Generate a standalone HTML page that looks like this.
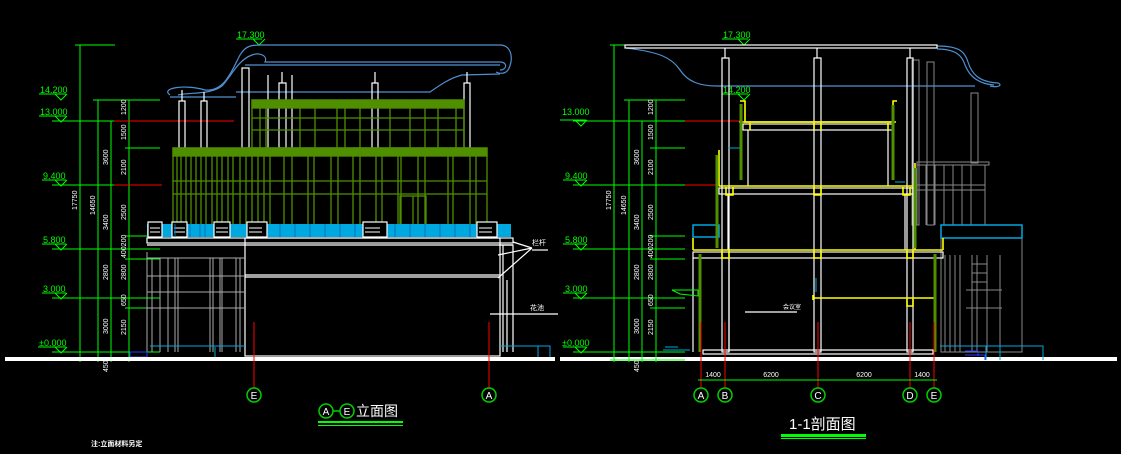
<!DOCTYPE html>
<html><head><meta charset="utf-8"><style>
html,body{margin:0;padding:0;background:#000;}
svg{display:block}
text{font-family:"Liberation Sans","Noto Sans CJK SC",sans-serif}
</style></head><body>
<svg width="1121" height="454" viewBox="0 0 1121 454" xmlns="http://www.w3.org/2000/svg">
<rect width="1121" height="454" fill="#000"/>

<!-- ===================== LEFT ELEVATION ===================== -->
<!-- level marks -->
<g stroke="#00ff00" stroke-width="1" fill="none">
  <!-- vertical dimension lines -->
  <line x1="80" y1="45" x2="80" y2="362"/>
  <line x1="98" y1="100" x2="98" y2="362"/>
  <line x1="111" y1="121" x2="111" y2="362"/>
  <line x1="129" y1="100" x2="129" y2="362"/>
  <!-- horizontal ticks -->
  <line x1="75" y1="45" x2="115" y2="45"/>
  <line x1="93" y1="100" x2="160" y2="100"/>
  <line x1="52" y1="121" x2="160" y2="121"/>
  <line x1="125" y1="148" x2="160" y2="148"/>
  <line x1="52" y1="185" x2="160" y2="185"/>
  <line x1="125" y1="236" x2="160" y2="236"/>
  <line x1="52" y1="249" x2="160" y2="249"/>
  <line x1="125" y1="259" x2="160" y2="259"/>
  <line x1="52" y1="298" x2="160" y2="298"/>
  <line x1="125" y1="308" x2="160" y2="308"/>
  <line x1="52" y1="352" x2="160" y2="352"/>
  <line x1="75" y1="360" x2="160" y2="360"/>
  <!-- level labels underline + triangles -->
  <line x1="39" y1="94" x2="66" y2="94"/><path d="M55,94 L61,100 L67,94"/>
  <line x1="39" y1="116" x2="66" y2="116"/><path d="M55,116 L61,122 L67,116"/>
  <line x1="42" y1="180" x2="66" y2="180"/><path d="M55,180 L61,186 L67,180"/>
  <line x1="42" y1="244" x2="66" y2="244"/><path d="M55,244 L61,250 L67,244"/>
  <line x1="42" y1="293" x2="66" y2="293"/><path d="M55,293 L61,299 L67,293"/>
  <line x1="38" y1="347" x2="66" y2="347"/><path d="M55,347 L61,353 L67,347"/>
  <line x1="236" y1="39" x2="262" y2="39"/><path d="M253,39 L259,45 L265,39"/>
</g>
<line x1="114" y1="121" x2="234" y2="121" stroke="#ff0000" stroke-width="1"/>
<line x1="114" y1="185" x2="162" y2="185" stroke="#ff0000" stroke-width="1"/>
<g fill="#00ff00" font-size="9">
  <text x="40" y="93">14.200</text>
  <text x="40" y="115">13.000</text>
  <text x="43" y="179">9.400</text>
  <text x="43" y="243">5.800</text>
  <text x="43" y="292">3.000</text>
  <text x="39" y="346">±0.000</text>
  <text x="237" y="38">17.300</text>
</g>
<g fill="#fff" font-size="7">
  <text transform="translate(77,210) rotate(-90)">17750</text>
  <text transform="translate(95,215) rotate(-90)">14650</text>
  <text transform="translate(108,165) rotate(-90)">3600</text>
  <text transform="translate(108,230) rotate(-90)">3400</text>
  <text transform="translate(108,280) rotate(-90)">2800</text>
  <text transform="translate(108,334) rotate(-90)">3000</text>
  <text transform="translate(126,115) rotate(-90)">1200</text>
  <text transform="translate(126,140) rotate(-90)">1500</text>
  <text transform="translate(126,175) rotate(-90)">2100</text>
  <text transform="translate(126,220) rotate(-90)">2500</text>
  <text transform="translate(126,258) rotate(-90)">400200</text>
  <text transform="translate(126,280) rotate(-90)">2800</text>
  <text transform="translate(126,306) rotate(-90)">650</text>
  <text transform="translate(126,335) rotate(-90)">2150</text>
  <text transform="translate(108,372) rotate(-90)">450</text>
</g>

<!-- roof curve (blue) -->
<g stroke="#4f8fd0" stroke-width="1.2" fill="none">
  <path d="M170,95 C160,88 185,84 205,90 C225,92 232,70 240,55 C246,45 252,45 262,45 L500,45 C512,45 514,60 508,70 C505,74 500,74 496,72"/>
  <path d="M178,95 C190,92 210,95 222,86 C232,75 238,60 252,55 C260,52 268,56 265,62 L500,62 C508,62 507,70 500,70"/>
  <path d="M170,97 L236,97 M236,92 C350,92 420,92 430,92 C440,85 450,78 462,75 L500,74"/>
  <line x1="245" y1="65" x2="500" y2="65"/>
</g>

<!-- posts -->
<g stroke="#fff" stroke-width="1.2" fill="none">
  <rect x="242" y="68" width="7" height="80"/>
  <rect x="179" y="101" width="6" height="47"/>
  <rect x="201" y="101" width="6" height="47"/>
  <rect x="279" y="83" width="7" height="65"/>
  <rect x="372" y="83" width="6" height="65"/>
  <rect x="464" y="83" width="6" height="65"/>
  <line x1="282" y1="72" x2="282" y2="83"/><line x1="375" y1="72" x2="375" y2="83"/><line x1="467" y1="72" x2="467" y2="83"/>
  <line x1="182" y1="90" x2="182" y2="101"/><line x1="204" y1="92" x2="204" y2="101"/>
  <line x1="268" y1="75" x2="268" y2="148"/><line x1="292" y1="75" x2="292" y2="148"/>
</g>

<!-- upper green -->
<g stroke="#4f8f00" stroke-width="1.3" fill="none">
  <rect x="252" y="100" width="212" height="48"/>
  <rect x="252" y="100" width="212" height="8" fill="#4f8f00"/>
  <line x1="252" y1="118" x2="464" y2="118"/>
  <line x1="252" y1="130" x2="464" y2="130"/>
  <path d="M260,100V148 M266,100V148 M300,100V148 M315,100V148 M337,100V148 M345,100V148 M360,100V148 M390,100V148 M410,100V148 M425,100V148 M438,100V148 M456,100V148"/>
</g>
<!-- main green facade -->
<g stroke="#4f8f00" stroke-width="1.3" fill="none">
  <rect x="173" y="148" width="314" height="78"/>
  <rect x="173" y="148" width="314" height="8" fill="#4f8f00"/>
  <line x1="173" y1="181" x2="487" y2="181"/>
  <line x1="173" y1="194" x2="487" y2="194"/>
  <path d="M177,148V226 M181,148V226 M186,148V226 M191,148V226 M196,148V226 M201,148V226 M206,148V226 M212,148V226 M217,148V226 M222,148V226 M228,148V226 M233,148V226 M240,148V226 M246,148V226 M252,148V226 M258,148V226 M264,148V226 M270,148V226 M284,148V226 M292,148V226 M308,148V226 M314,148V226 M331,148V226 M338,148V226 M353,148V226 M360,148V226 M376,148V226 M382,148V226 M398,148V226 M401,148V226 M418,148V226 M425,148V226 M448,148V226 M453,148V226 M470,148V226 M476,148V226"/>
  <rect x="400" y="196" width="26" height="30"/><line x1="413" y1="196" x2="413" y2="226"/>
</g>

<!-- cyan railing -->
<rect x="147" y="224" width="364" height="13" fill="#00a8e0"/>
<g stroke="#fff" stroke-width="1.2" fill="#000">
  <rect x="148" y="222" width="14" height="15"/>
  <rect x="172" y="222" width="15" height="15"/>
  <rect x="214" y="222" width="16" height="15"/>
  <rect x="247" y="222" width="20" height="15"/>
  <rect x="363" y="222" width="24" height="15"/>
  <rect x="477" y="222" width="20" height="15"/>
</g>
<g stroke="#fff" stroke-width="1">
  <path d="M150,228H160 M150,232H160 M174,228H185 M174,232H185 M216,228H228 M216,232H228 M249,228H262 M249,232H262 M365,228H380 M365,232H380 M479,228H492 M479,232H492"/>
</g>
<g stroke="#0070c0" stroke-width="1"><path d="M175,224V237 M190,224V237 M200,224V237 M205,224V237 M280,224V237 M295,224V237 M310,224V237 M325,224V237 M340,224V237 M355,224V237 M395,224V237 M410,224V237 M425,224V237 M440,224V237 M455,224V237 M470,224V237"/></g>

<!-- slab and lower -->
<g stroke="#fff" stroke-width="1.2" fill="none">
  <rect x="147" y="238" width="366" height="5"/>
  <line x1="147" y1="245" x2="513" y2="245"/>
  <rect x="245" y="238" width="255" height="118"/>
  <line x1="245" y1="275" x2="500" y2="275"/>
  <line x1="245" y1="277" x2="500" y2="277"/>
  <path d="M499,245 L513,245 L513,352 M503,245V352 M507,280V352"/>
  <path d="M513,242 L532,248 M532,248 L498,255 M532,248 L498,278"/>
  <line x1="490" y1="314" x2="558" y2="314"/>
  <line x1="532" y1="250" x2="548" y2="250"/>
</g>
<g stroke="#aaa" stroke-width="1" fill="none">
  <path d="M147,252V352 M152,258V352 M160,258V352 M168,258V352 M175,258V352 M178,258V352 M210,258V352 M213,258V352 M220,258V352 M222,258V352 M236,258V352 M240,258V352"/>
  <path d="M147,258H245 M147,276H245 M147,292H245 M147,308H245"/>
</g>
<g stroke="#00a8e0" stroke-width="1" fill="none">
  <path d="M150,346H245 M500,346H550 V360 M538,346V360"/>
  <path d="M215,347V358 H225"/>
</g>
<rect x="130" y="352" width="17" height="5" fill="none" stroke="#2040ff" stroke-width="1"/>
<g fill="#fff" font-size="7"><text x="532" y="245">栏杆</text><text x="530" y="310">花池</text></g>

<!-- ground lines -->
<rect x="5" y="357" width="550" height="4" fill="#fff"/>
<rect x="560" y="357" width="557" height="4" fill="#fff"/>

<!-- left axes -->
<g stroke="#ff0000" stroke-width="1"><line x1="254" y1="322" x2="254" y2="388"/><line x1="489" y1="322" x2="489" y2="388"/></g>
<g stroke="#00d000" stroke-width="1.5" fill="none">
  <circle cx="254" cy="395" r="7"/><circle cx="489" cy="395" r="7"/>
  <circle cx="326" cy="411" r="7"/><circle cx="347" cy="411" r="7"/>
  <line x1="333" y1="411" x2="340" y2="411"/>
</g>
<g fill="#fff" font-family="Liberation Serif" font-size="10" text-anchor="middle">
  <text x="254" y="399">E</text><text x="489" y="399">A</text>
  <text x="326" y="415">A</text><text x="347" y="415">E</text>
</g>
<text x="356" y="416" fill="#fff" font-size="14">立面图</text>
<rect x="318" y="421" width="85" height="2" fill="#00ff00"/>
<rect x="318" y="425" width="85" height="1" fill="#00ff00"/>
<text x="91" y="446" fill="#fff" font-size="7" font-weight="bold">注:立面材料另定</text>

<!-- ===================== RIGHT SECTION ===================== -->
<g stroke="#00ff00" stroke-width="1" fill="none">
  <line x1="614" y1="45" x2="614" y2="362"/>
  <line x1="629" y1="100" x2="629" y2="362"/>
  <line x1="642" y1="121" x2="642" y2="362"/>
  <line x1="656" y1="100" x2="656" y2="362"/>
  <line x1="610" y1="45" x2="648" y2="45"/>
  <line x1="624" y1="100" x2="685" y2="100"/>
  <line x1="573" y1="121" x2="685" y2="121"/>
  <line x1="650" y1="148" x2="685" y2="148"/>
  <line x1="573" y1="185" x2="685" y2="185"/>
  <line x1="650" y1="236" x2="685" y2="236"/>
  <line x1="573" y1="249" x2="685" y2="249"/>
  <line x1="650" y1="259" x2="685" y2="259"/>
  <line x1="573" y1="298" x2="685" y2="298"/>
  <line x1="650" y1="308" x2="685" y2="308"/>
  <line x1="573" y1="352" x2="685" y2="352"/>
  <line x1="610" y1="360" x2="685" y2="360"/>
  <line x1="560" y1="120" x2="586" y2="120"/><path d="M575,120 L581,126 L587,120"/>
  <line x1="563" y1="180" x2="586" y2="180"/><path d="M575,180 L581,186 L587,180"/>
  <line x1="563" y1="244" x2="586" y2="244"/><path d="M575,244 L581,250 L587,244"/>
  <line x1="563" y1="293" x2="586" y2="293"/><path d="M575,293 L581,299 L587,293"/>
  <line x1="563" y1="347" x2="586" y2="347"/><path d="M575,347 L581,353 L587,347"/>
  <line x1="722" y1="39" x2="748" y2="39"/><path d="M738,39 L744,45 L750,39"/>
  <line x1="722" y1="94" x2="748" y2="94"/><path d="M738,94 L744,100 L750,94"/>
</g>
<line x1="685" y1="121" x2="740" y2="121" stroke="#ff0000"/>
<line x1="685" y1="185" x2="720" y2="185" stroke="#ff0000"/>
<g fill="#00ff00" font-size="9">
  <text x="562" y="115">13.000</text>
  <text x="565" y="179">9.400</text>
  <text x="565" y="243">5.800</text>
  <text x="565" y="292">3.000</text>
  <text x="562" y="346">±0.000</text>
  <text x="723" y="38">17.300</text>
  <text x="723" y="93">14.200</text>
</g>
<g fill="#fff" font-size="7">
  <text transform="translate(611,210) rotate(-90)">17750</text>
  <text transform="translate(626,215) rotate(-90)">14650</text>
  <text transform="translate(639,165) rotate(-90)">3600</text>
  <text transform="translate(639,230) rotate(-90)">3400</text>
  <text transform="translate(639,280) rotate(-90)">2800</text>
  <text transform="translate(639,334) rotate(-90)">3000</text>
  <text transform="translate(653,115) rotate(-90)">1200</text>
  <text transform="translate(653,140) rotate(-90)">1500</text>
  <text transform="translate(653,175) rotate(-90)">2100</text>
  <text transform="translate(653,220) rotate(-90)">2500</text>
  <text transform="translate(653,258) rotate(-90)">400200</text>
  <text transform="translate(653,280) rotate(-90)">2800</text>
  <text transform="translate(653,306) rotate(-90)">650</text>
  <text transform="translate(653,335) rotate(-90)">2150</text>
  <text transform="translate(639,372) rotate(-90)">450</text>
</g>

<!-- roof -->
<g stroke="#4f8fd0" stroke-width="1.2" fill="none">
  <path d="M626,48 C660,52 672,58 680,70 C688,82 700,86 717,86"/>
  <line x1="717" y1="86" x2="975" y2="86"/>
  <path d="M937,46 C960,46 965,52 968,62 C972,75 980,82 998,83 C1003,85 998,88 990,86"/>
  <path d="M937,49 C955,49 962,55 965,65 C970,78 980,84 994,85"/>
</g>
<rect x="625" y="45" width="312" height="3" fill="none" stroke="#fff" stroke-width="1.2"/>

<!-- back grey elements -->
<g stroke="#888" stroke-width="1" fill="none">
  <rect x="912" y="60" width="7" height="165"/>
  <rect x="927" y="62" width="7" height="163"/>
  <rect x="971" y="93" width="7" height="70"/>
  <rect x="917" y="162" width="72" height="3"/>
  <path d="M917,165V225 M926,165V225 M935,165V225 M944,165V225 M953,165V225 M962,165V225 M971,165V225 M985,165V225"/>
  <line x1="917" y1="185" x2="985" y2="185"/>
  <line x1="917" y1="190" x2="985" y2="190"/>
  <rect x="941" y="238" width="81" height="114"/>
  <path d="M945,255V352 M950,255V352 M955,255V352 M960,255V352 M972,255V352 M977,255V352 M987,255V352 M1000,255V352"/>
  <path d="M966,290H1002 M966,308H1002 M972,255V290 M987,255V290 M972,264H987 M972,273H987 M972,282H987"/>
</g>
<rect x="941" y="225" width="81" height="13" fill="none" stroke="#00a8e0" stroke-width="1.5"/>
<rect x="693" y="225" width="26" height="12" fill="none" stroke="#00a8e0" stroke-width="1.5"/>

<!-- columns -->
<g stroke="#fff" stroke-width="1.2" fill="none">
  <rect x="722" y="58" width="7" height="294"/>
  <rect x="814" y="58" width="7" height="294"/>
  <rect x="907" y="58" width="6" height="294"/>
  <line x1="725" y1="48" x2="725" y2="58"/><line x1="817" y1="48" x2="817" y2="58"/><line x1="910" y1="48" x2="910" y2="58"/>
  <rect x="743" y="124" width="150" height="6"/>
  <line x1="748" y1="130" x2="748" y2="186"/><line x1="888" y1="130" x2="888" y2="186"/>
  <rect x="719" y="188" width="196" height="6"/>
  <line x1="728" y1="194" x2="728" y2="250"/><line x1="905" y1="194" x2="905" y2="250"/>
  <rect x="693" y="252" width="250" height="6"/>
  <line x1="729" y1="258" x2="729" y2="352"/>
  <rect x="703" y="350" width="230" height="4"/>
  <line x1="693" y1="258" x2="693" y2="352"/>
  <line x1="745" y1="312" x2="797" y2="312"/>
</g>
<!-- yellow floors -->
<g stroke="#ffff00" stroke-width="1.6" fill="none">
  <path d="M740,101 H745 V122 H893 V101 H897"/>
  <line x1="739" y1="122" x2="896" y2="122"/>
  <path d="M719,186 H915 M719,150 V186 M915,163 V250"/>
  <path d="M693,250 H943 M693,238 V250 M943,238 V250"/>
  <path d="M813,300 V295 M813,298 H935"/>
  <path d="M750,123 V130 M814,123V130 M821,123V130 M888,123V130"/>
  <path d="M726,187 V195 H733 V187 M814,187V195 H821V187 M903,187V195 H910V187"/>
  <path d="M722,251 V258 H729 V251 M814,251V258H821V251 M907,251V258H913V251"/>
  <path d="M907,299 V306 H913 V299"/>
</g>
<g stroke="#4f8f00" stroke-width="3" fill="none">
  <line x1="741" y1="104" x2="741" y2="180"/>
  <line x1="893" y1="105" x2="893" y2="180"/>
  <line x1="717" y1="155" x2="717" y2="248"/>
  <line x1="915" y1="168" x2="915" y2="248"/>
  <line x1="700" y1="254" x2="700" y2="352"/>
  <line x1="935" y1="254" x2="935" y2="352"/>
</g>
<g stroke="#00a8e0" stroke-width="1"><line x1="728" y1="148" x2="740" y2="148"/><line x1="895" y1="182" x2="905" y2="182"/><line x1="816" y1="278" x2="816" y2="292"/><line x1="693" y1="237" x2="717" y2="237"/></g>
<path d="M672,290 L698,290 L698,296 L680,294 Z" fill="none" stroke="#00ff00" stroke-width="1"/>
<text x="783" y="309" fill="#fff" font-size="6">会议室</text>
<!-- right annex blue steps -->
<g stroke="#00a8e0" stroke-width="1" fill="none"><path d="M940,346H1043V360 M986,346V360 M1000,346V360"/></g>
<g stroke="#2040ff" stroke-width="1" fill="none"><path d="M965,351H978V356 M965,355H985V360"/></g>
<g stroke="#00a8e0" stroke-width="1" fill="none"><path d="M663,350H690 M665,347H678"/></g>

<!-- right axes -->
<g stroke="#ff0000" stroke-width="1">
  <line x1="701" y1="322" x2="701" y2="388"/>
  <line x1="725" y1="322" x2="725" y2="388"/>
  <line x1="818" y1="322" x2="818" y2="388"/>
  <line x1="910" y1="322" x2="910" y2="388"/>
  <line x1="934" y1="322" x2="934" y2="388"/>
</g>
<line x1="698" y1="380" x2="937" y2="380" stroke="#00ff00" stroke-width="1"/>
<g fill="#fff" font-size="7" text-anchor="middle">
  <text x="713" y="377">1400</text><text x="771" y="377">6200</text><text x="864" y="377">6200</text><text x="922" y="377">1400</text>
</g>
<g stroke="#00d000" stroke-width="1.5" fill="none">
  <circle cx="701" cy="395" r="7"/><circle cx="725" cy="395" r="7"/><circle cx="818" cy="395" r="7"/><circle cx="910" cy="395" r="7"/><circle cx="934" cy="395" r="7"/>
</g>
<g fill="#fff" font-family="Liberation Serif" font-size="10" text-anchor="middle">
  <text x="701" y="399">A</text><text x="725" y="399">B</text><text x="818" y="399">C</text><text x="910" y="399">D</text><text x="934" y="399">E</text>
</g>
<text x="789" y="429" fill="#fff" font-size="15">1-1剖面图</text>
<rect x="781" y="434" width="85" height="3" fill="#00ff00"/>
<rect x="781" y="438" width="85" height="1" fill="#00ff00"/>
</svg>
</body></html>
